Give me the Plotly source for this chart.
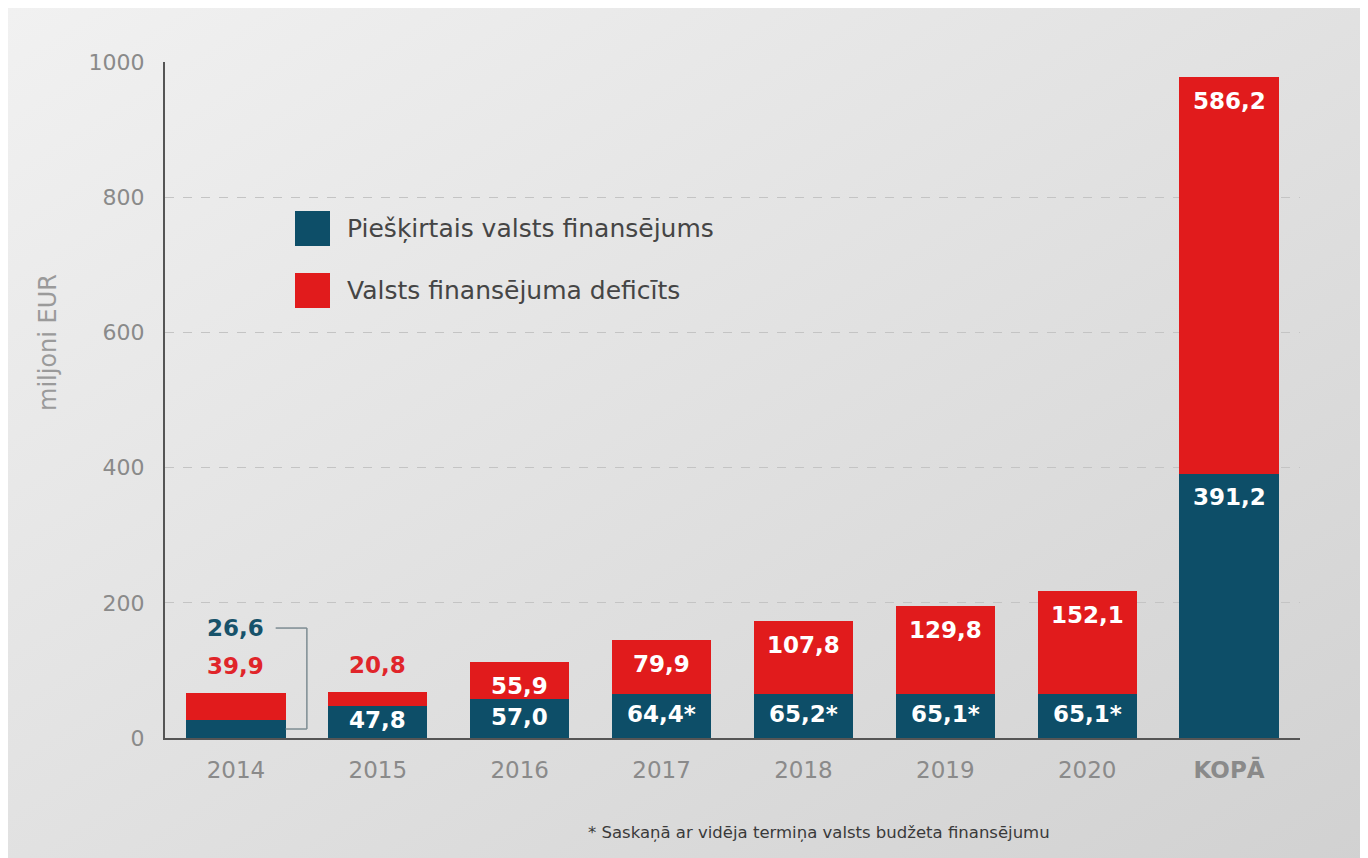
import base64
import plotly.graph_objects as go

# ---------------- data ----------------
categories = ["2014", "2015", "2016", "2017", "2018", "2019", "2020", "KOPĀ"]
allocated = [26.6, 47.8, 57.0, 64.4, 65.2, 65.1, 65.1, 391.2]
deficit = [39.9, 20.8, 55.9, 79.9, 107.8, 129.8, 152.1, 586.2]
allocated_labels = ["26,6", "47,8", "57,0", "64,4*", "65,2*", "65,1*", "65,1*", "391,2"]
deficit_labels = ["39,9", "20,8", "55,9", "79,9", "107,8", "129,8", "152,1", "586,2"]
tick_text = ["2014", "2015", "2016", "2017", "2018", "2019", "2020", "<b>KOPĀ</b>"]
y_ticks = [0, 200, 400, 600, 800, 1000]
series_names = ["Piešķirtais valsts finansējums", "Valsts finansējuma deficīts"]
footnote = "* Saskaņā ar vidēja termiņa valsts budžeta finansējumu"
y_title = "miljoni EUR"

# ---------------- style ----------------
W, H = 1368, 858
OFF = 8  # page body margin
PLOT_L, PLOT_T, PLOT_W, PLOT_H = 165, 62, 1135, 676  # page pixels
ML = PLOT_L - OFF
MT = PLOT_T - OFF
MR = W - ML - PLOT_W
MB = H - MT - PLOT_H
BLUE = "#0d4e68"
RED = "#e11b1c"
GREY = "#8a8a8a"
FONT = "DejaVu Sans"
Y_MAX = 1000
px_per_unit = PLOT_H / Y_MAX


def px_x(px):
    return (px - PLOT_L) / PLOT_W


def px_y(py):
    return (PLOT_T + PLOT_H - py) / PLOT_H


fig = go.Figure()
fig.add_trace(go.Bar(x=categories, y=allocated, name=series_names[0],
                     marker=dict(color=BLUE, line=dict(width=0)), showlegend=False))
fig.add_trace(go.Bar(x=categories, y=deficit, name=series_names[1],
                     marker=dict(color=RED, line=dict(width=0)), showlegend=False))

annotations = []
label_font = dict(family=FONT, size=23, color="white")
for i, cat in enumerate(categories):
    total = allocated[i] + deficit[i]
    # blue labels
    if i == 0:
        annotations.append(dict(x=i, y=total, xref="x", yref="y", text=f"<b>{allocated_labels[i]}</b>",
                                showarrow=False, yanchor="middle", yshift=65,
                                font=dict(family=FONT, size=23, color="#17526a")))
    elif cat == "KOPĀ":
        annotations.append(dict(x=i, y=allocated[i], xref="x", yref="y", text=f"<b>{allocated_labels[i]}</b>",
                                showarrow=False, yanchor="top", yshift=-8, font=label_font))
    else:
        annotations.append(dict(x=i, y=allocated[i] / 2, xref="x", yref="y", text=f"<b>{allocated_labels[i]}</b>",
                                showarrow=False, yanchor="middle", yshift=2, font=label_font))
    # red labels
    if i < 2:
        annotations.append(dict(x=i, y=total, xref="x", yref="y", text=f"<b>{deficit_labels[i]}</b>",
                                showarrow=False, yanchor="bottom", yshift=12,
                                font=dict(family=FONT, size=23, color="#e0252a")))
    else:
        annotations.append(dict(x=i, y=total, xref="x", yref="y", text=f"<b>{deficit_labels[i]}</b>",
                                showarrow=False, yanchor="top", yshift=-9, font=label_font))

# bracket for the 2014 allocated value
top_y = allocated[0] + deficit[0] + 65 / px_per_unit
mid_y = allocated[0] / 2
bracket = dict(color="#7d8c92", width=1.5)
shapes = [
    dict(type="line", xref="x", yref="y", x0=0.28, x1=0.5, y0=top_y, y1=top_y, line=bracket),
    dict(type="line", xref="x", yref="y", x0=0.5, x1=0.5, y0=top_y, y1=mid_y, line=bracket),
    dict(type="line", xref="x", yref="y", x0=0.5, x1=0.35, y0=mid_y, y1=mid_y, line=bracket),
]

# manual legend
for k, (name, col) in enumerate(zip(series_names, [BLUE, RED])):
    top = 211 + k * 62
    shapes.append(dict(type="rect", xref="paper", yref="paper",
                       x0=px_x(295), x1=px_x(330), y0=px_y(top), y1=px_y(top + 35),
                       fillcolor=col, line=dict(width=0)))
    annotations.append(dict(x=px_x(345), y=px_y(top + 17), xref="paper", yref="paper",
                            text=name, showarrow=False, xanchor="left", yanchor="middle",
                            font=dict(family=FONT, size=25, color="#454545")))

# y title
annotations.append(dict(x=px_x(48), y=px_y(343), xref="paper", yref="paper", text=y_title,
                        showarrow=False, textangle=-90, xanchor="center", yanchor="middle",
                        font=dict(family=FONT, size=24, color="#9a9a9a")))
# footnote
annotations.append(dict(x=px_x(1052), y=px_y(832), xref="paper", yref="paper", text=footnote,
                        showarrow=False, xanchor="right", yanchor="middle",
                        font=dict(family=FONT, size=16.5, color="#3a3a3a")))

# background gradient
svg = ('<svg xmlns="http://www.w3.org/2000/svg" width="100" height="100" preserveAspectRatio="none" '
       'viewBox="0 0 100 100"><defs><linearGradient id="g" x1="0" y1="0" x2="1" y2="1">'
       '<stop offset="0" stop-color="#f1f1f1"/><stop offset="1" stop-color="#d1d1d1"/>'
       '</linearGradient></defs><rect width="100" height="100" fill="url(#g)"/></svg>')
src = "data:image/svg+xml;base64," + base64.b64encode(svg.encode()).decode()

fig.update_layout(
    width=W, height=H,
    margin=dict(l=ML, r=MR, t=MT, b=MB, pad=0),
    barmode="stack", bargap=0.3,
    paper_bgcolor="#e2e2e2", plot_bgcolor="rgba(0,0,0,0)",
    font=dict(family=FONT, color=GREY),
    annotations=annotations, shapes=shapes,
    images=[dict(source=src, xref="paper", yref="paper", x=px_x(OFF), y=px_y(OFF),
                 sizex=W / PLOT_W, sizey=H / PLOT_H, sizing="stretch",
                 xanchor="left", yanchor="top", layer="below")],
    xaxis=dict(type="category", range=[-0.5, 7.5], tickvals=categories, ticktext=tick_text,
               showline=True, linecolor="#555555", linewidth=2, showgrid=False,
               ticks="outside", ticklen=10, tickcolor="rgba(0,0,0,0)",
               tickfont=dict(family=FONT, size=23, color=GREY), fixedrange=True),
    yaxis=dict(range=[0, Y_MAX], tickvals=y_ticks, showline=True, linecolor="#555555", linewidth=2,
               showgrid=True, gridcolor="#c4c4c4", griddash="dash", gridwidth=1, zeroline=False,
               ticks="outside", ticklen=14, tickcolor="rgba(0,0,0,0)",
               tickfont=dict(family=FONT, size=22, color=GREY), fixedrange=True),
)

fig.write_html("out.html")
